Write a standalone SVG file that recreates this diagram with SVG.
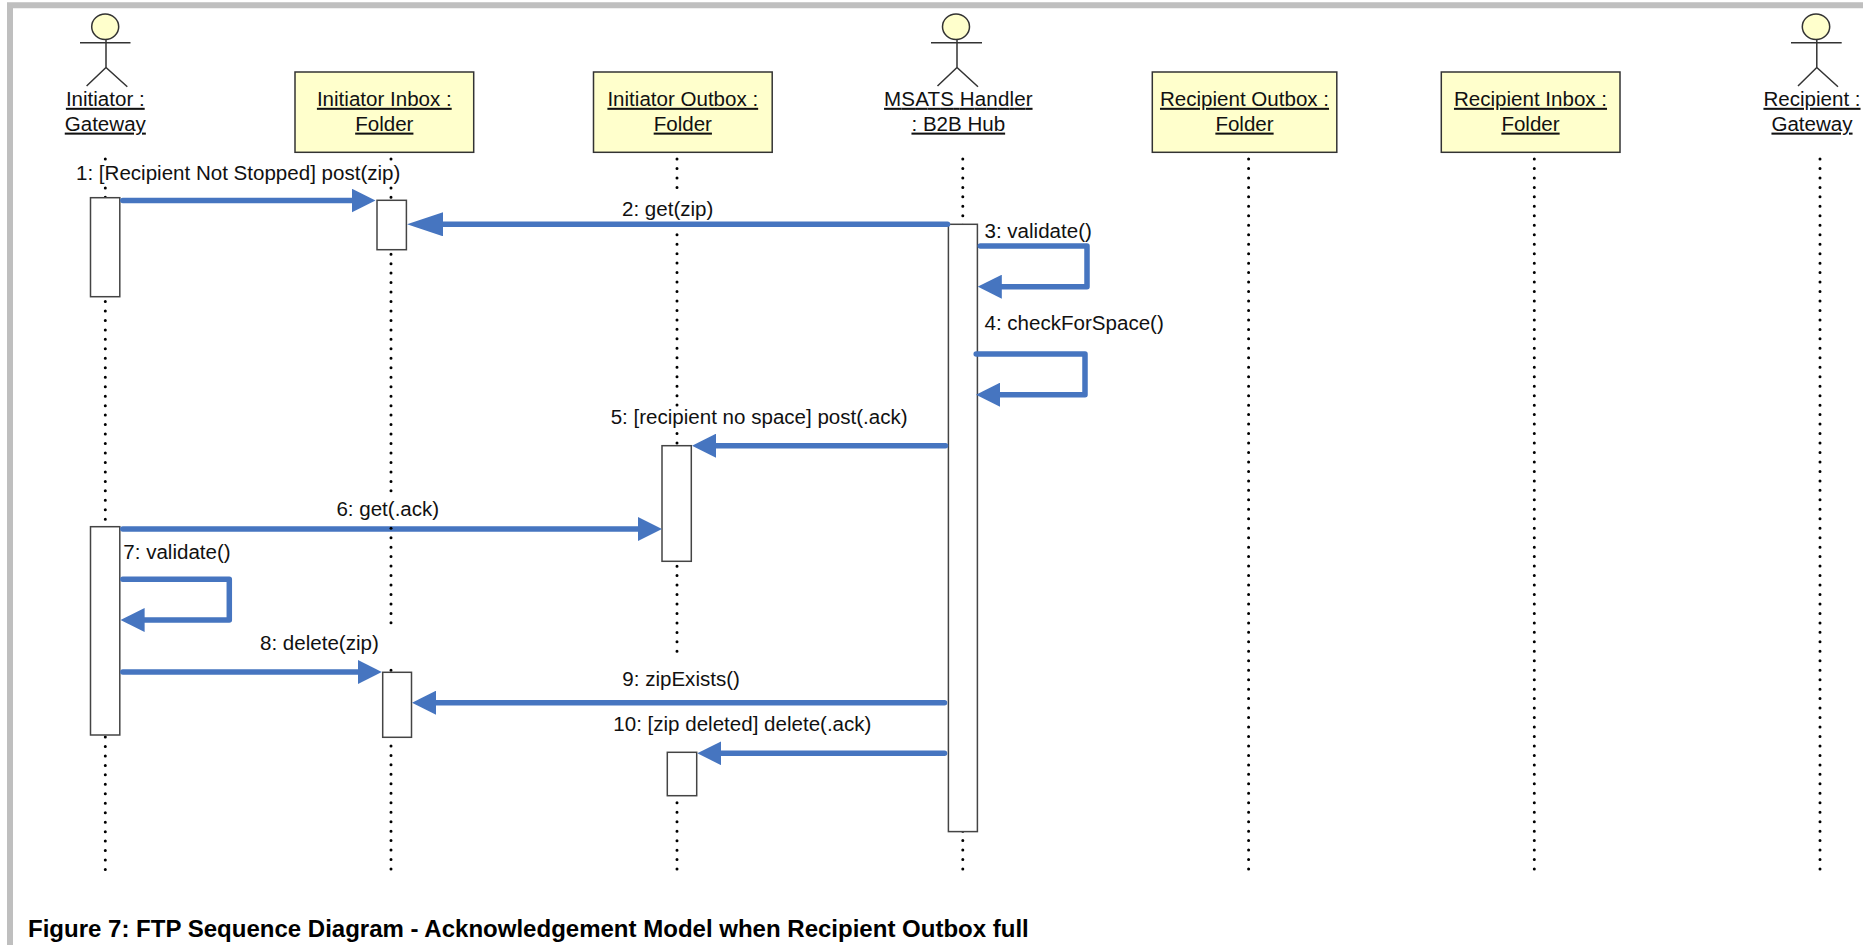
<svg xmlns="http://www.w3.org/2000/svg" width="1863" height="945" viewBox="0 0 1863 945">
<style>
text{font-family:"Liberation Sans",Arial,sans-serif;font-size:20.55px;fill:#111}
.n{text-anchor:middle;text-decoration:underline}
.cap{font-weight:bold;font-size:24.03px;fill:#000}
.life{fill:none;stroke:#000;stroke-width:3;stroke-linecap:round;stroke-dasharray:0 9.467}
.box{fill:#ffffcc;stroke:#333;stroke-width:1.5}
.head{fill:#ffffcc;stroke:#333;stroke-width:1.5}
.stick{fill:none;stroke:#333;stroke-width:1.5}
.act{fill:#fff;stroke:#444;stroke-width:1.5}
.msg{fill:none;stroke:#4675c0;stroke-width:5.5;stroke-linejoin:round;stroke-linecap:round}
</style>
<defs>
<marker id="ah" markerUnits="userSpaceOnUse" viewBox="0 0 24 24" markerWidth="24" markerHeight="24" refX="1" refY="12" orient="auto"><path d="M0 0L24 12L0 24Z" fill="#4675c0"/></marker>
<marker id="ah2" markerUnits="userSpaceOnUse" viewBox="0 0 36 24" markerWidth="36" markerHeight="24" refX="1" refY="12" orient="auto"><path d="M0 0L36 12L0 24Z" fill="#4675c0"/></marker>
</defs>
<rect width="1863" height="945" fill="#fff"/>
<path id="frame" d="M1863 5.3H10V945" fill="none" stroke="#bfbfbf" stroke-width="6"/>
<g id="lifelines">
<path class="life" d="M105.3 159V160M105.3 187.9V870"/>
<path class="life" d="M391 159V160M391 187.9V491M391 528.2V623M391 670.2V870"/>
<path class="life" d="M677 159V188M677 234.7V405.5M677 433.6V652M677 802.8V870"/>
<path class="life" d="M962.8 159V870"/>
<path class="life" d="M1248.6 159V870"/>
<path class="life" d="M1534.3 159V870"/>
<path class="life" d="M1820 159V870"/>
</g>
<g id="actor-initiator"><ellipse class="head" cx="105.2" cy="26.7" rx="13.5" ry="12.7"/><path class="stick" d="M80 42.7H130.5M106 39.5V67.5M86.6 86L106 67.5L127.3 86.7"/><text class="n" x="105.3" y="105.8">Initiator :</text><text class="n" x="105.3" y="130.6">Gateway</text></g>
<g id="obj-initiator-inbox"><rect class="box" x="295" y="72" width="178.7" height="80.3"/><text class="n" x="384.3" y="105.8">Initiator Inbox :</text><text class="n" x="384.3" y="130.6">Folder</text></g>
<g id="obj-initiator-outbox"><rect class="box" x="593.5" y="72" width="178.7" height="80.3"/><text class="n" x="682.8" y="105.8">Initiator Outbox :</text><text class="n" x="682.8" y="130.6">Folder</text></g>
<g id="actor-msats"><ellipse class="head" cx="956" cy="26.7" rx="13.5" ry="12.7"/><path class="stick" d="M931 42.7H982M957 39.5V67.5M937.5 86L957 67.5L978 86.7"/><text class="n" x="958.3" y="105.8" textLength="148.5">MSATS Handler</text><text class="n" x="958.3" y="130.6">: B2B Hub</text></g>
<g id="obj-recipient-outbox"><rect class="box" x="1152.3" y="72" width="184.5" height="80.3"/><text class="n" x="1244.5" y="105.8">Recipient Outbox :</text><text class="n" x="1244.5" y="130.6">Folder</text></g>
<g id="obj-recipient-inbox"><rect class="box" x="1441.3" y="72" width="178.7" height="80.3"/><text class="n" x="1530.5" y="105.8">Recipient Inbox :</text><text class="n" x="1530.5" y="130.6">Folder</text></g>
<g id="actor-recipient"><ellipse class="head" cx="1816" cy="26.7" rx="13.7" ry="12.7"/><path class="stick" d="M1791 42.7H1841.7M1816.8 39.5V67.5M1798 86L1816.8 67.5L1838 86.7"/><text class="n" x="1812" y="105.8">Recipient :</text><text class="n" x="1812" y="130.6">Gateway</text></g>
<g id="activations">
<rect class="act" x="90.5" y="197.7" width="29.3" height="99"/>
<rect class="act" x="377" y="200.3" width="29.4" height="49.4"/>
<rect class="act" x="948.4" y="224.3" width="29" height="607.3"/>
<rect class="act" x="662" y="445.7" width="29.3" height="115.6"/>
<rect class="act" x="90.5" y="526.7" width="29.3" height="208.3"/>
<rect class="act" x="382.7" y="672.3" width="28.8" height="65"/>
<rect class="act" x="667.3" y="752.3" width="29.4" height="43.4"/>
</g>
<g id="connectors">
<path class="msg" marker-end="url(#ah)" d="M122.8 200.5H352.5"/>
<path class="msg" marker-end="url(#ah2)" d="M947.5 224.3H442"/>
<path class="msg" marker-end="url(#ah)" d="M980.3 246H1087V286.7H1000.8"/>
<path class="msg" marker-end="url(#ah)" d="M976.2 354H1085V394.7H999"/>
<path class="msg" marker-end="url(#ah)" d="M945.5 445.7H715"/>
<path class="msg" marker-end="url(#ah)" d="M122.8 529H639"/>
<path class="msg" marker-end="url(#ah)" d="M122.8 579.3H229.3V620H143.6"/>
<path class="msg" marker-end="url(#ah)" d="M122.8 672H358.8"/>
<path class="msg" marker-end="url(#ah)" d="M944.5 702.7H435"/>
<path class="msg" marker-end="url(#ah)" d="M944.5 753.3H720.3"/>
</g>
<path id="lifeline-crossing" class="life" d="M391 528.2V529"/>
<g id="labels">
<text x="76" y="180">1: [Recipient Not Stopped] post(zip)</text>
<text x="622" y="216">2: get(zip)</text>
<text x="984.5" y="238">3: validate()</text>
<text x="984.5" y="330">4: checkForSpace()</text>
<text x="610.7" y="424">5: [recipient no space] post(.ack)</text>
<text x="336.4" y="515.8">6: get(.ack)</text>
<text x="123.3" y="559">7: validate()</text>
<text x="260" y="650.3">8: delete(zip)</text>
<text x="622.3" y="686.3">9: zipExists()</text>
<text x="613.3" y="730.5">10: [zip deleted] delete(.ack)</text>
</g>
<text id="caption" class="cap" x="28" y="937.3">Figure 7: FTP Sequence Diagram - Acknowledgement Model when Recipient Outbox full</text>
</svg>
